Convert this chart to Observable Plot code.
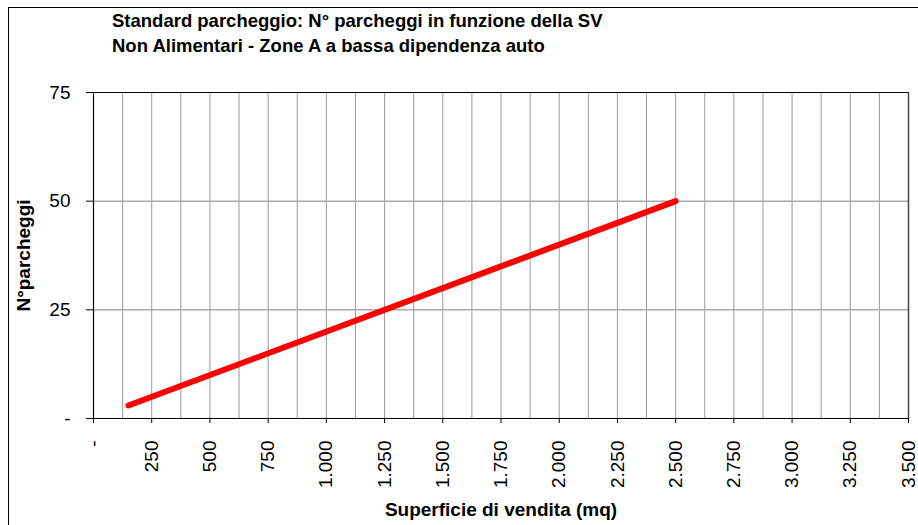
<!DOCTYPE html>
<html>
<head>
<meta charset="utf-8">
<script src="https://cdn.jsdelivr.net/npm/d3@7"></script>
<script src="https://cdn.jsdelivr.net/npm/@observablehq/plot@0.6"></script>
<style>
  html, body { margin: 0; padding: 0; background: #fff; }
  #wrap { position: relative; width: 918px; height: 525px; overflow: hidden; font-family: "Liberation Sans", Arial, sans-serif; }
  #frame { position: absolute; left: 8px; top: 7px; width: 940px; height: 560px; border: 1.5px solid #000; box-sizing: border-box; pointer-events: none; }
  #title { position: absolute; left: 112px; top: 8px; font-weight: bold; font-size: 18.5px; line-height: 25px; color: #000; white-space: nowrap; }
  #chart { position: absolute; left: 0; top: 0; }
</style>
</head>
<body>
<div id="wrap">
  <div id="chart"></div>
  <div id="frame"></div>
  <div id="title">Standard parcheggio: N° parcheggi in funzione della SV<br>Non Alimentari - Zone A a bassa dipendenza auto</div>
</div>
<script>
// Data
const superficie = [150, 2500];
const parcheggi = [3, 50];
const xTicks = [0, 250, 500, 750, 1000, 1250, 1500, 1750, 2000, 2250, 2500, 2750, 3000, 3250, 3500];
const yTicks = [0, 25, 50, 75];
const xGrid = d3.range(0, 3501, 125);

const series = superficie.map((x, i) => ({x, y: parcheggi[i]}));
const fmt = d => d === 0 ? "-" : d3.format(",")(d).replace(/,/g, ".");

const chart = Plot.plot({
  width: 918,
  height: 525,
  marginLeft: 93,
  marginRight: 10,
  marginTop: 92,
  marginBottom: 107,
  style: { fontFamily: "'Liberation Sans', Arial, sans-serif", fontSize: "19px", color: "#000", background: "transparent" },
  x: { domain: [0, 3500] },
  y: { domain: [0, 75] },
  marks: [
    Plot.ruleX(xGrid.filter(d => d > 0 && d < 3500), { stroke: "#999", strokeWidth: 1, strokeOpacity: 1 }),
    Plot.ruleY([25, 50], { stroke: "#aaa", strokeWidth: 1.5, strokeOpacity: 1 }),
    Plot.ruleY([75], { stroke: "#000", strokeWidth: 1.2 }),
    Plot.ruleX([3500], { stroke: "#444", strokeWidth: 1.5 }),
    Plot.ruleX([0], { stroke: "#000", strokeWidth: 1.2 }),
    Plot.ruleY([0], { stroke: "#000", strokeWidth: 1.2 }),
    Plot.axisX({ ticks: xTicks, tickFormat: fmt, tickRotate: -90, tickSize: 5, tickPadding: 17, label: null, fontSize: 19 }),
    Plot.axisY({ ticks: yTicks, tickFormat: fmt, tickSize: 7, tickPadding: 16, label: null, fontSize: 19 }),
    Plot.text(["Superficie di vendita (mq)"], { frameAnchor: "bottom", dy: 97, fontWeight: "bold", fontSize: 19 }),
    Plot.text(["N°parcheggi"], { frameAnchor: "left", textAnchor: "middle", dx: -70, rotate: -90, fontWeight: "bold", fontSize: 19 }),
    Plot.line(series, { x: "x", y: "y", stroke: "#ff0000", strokeWidth: 6, strokeLinecap: "round" })
  ]
});
document.getElementById("chart").appendChild(chart);
</script>
</body>
</html>
